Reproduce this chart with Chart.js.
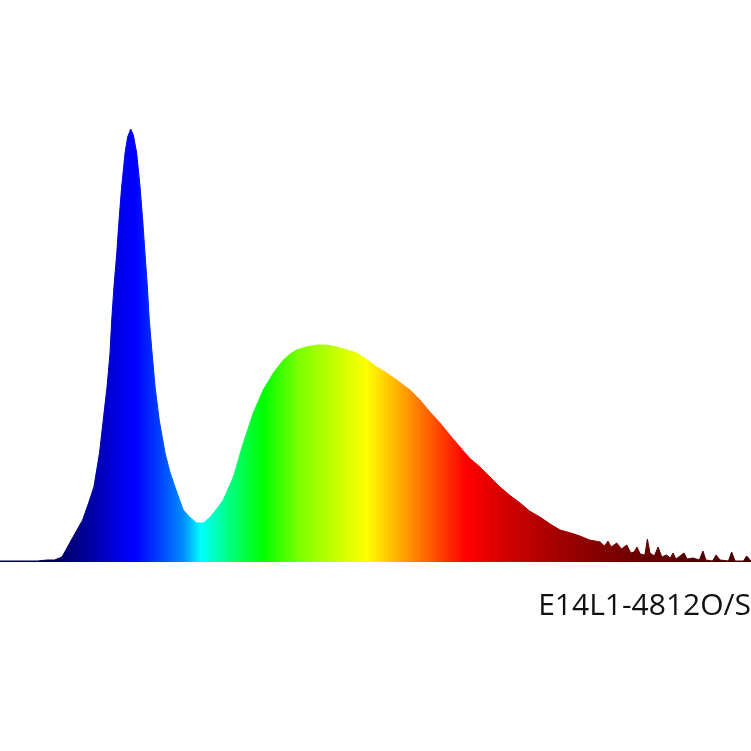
<!DOCTYPE html>
<html>
<head>
<meta charset="utf-8">
<script src="https://cdn.jsdelivr.net/npm/chart.js@4"></script>
<style>
  html, body { margin: 0; padding: 0; background: #fff; }
  #wrap { width: 751px; height: 751px; }
</style>
</head>
<body>
<div id="wrap"><canvas id="myChart"></canvas></div>
<script>
// wavelength (nm) and relative intensity
const wavelengths = [
  380, 390, 400, 405, 409, 413, 418, 421, 424, 427, 430, 433, 435, 437, 438.6, 439.5,
  440.7, 442.2, 443.4, 444.8, 446.6, 448, 449.6, 451, 452.8, 454.6, 456, 457.2, 458.5,
  459.5, 461, 462.6, 464.8, 467.9, 470.5, 473.2, 477.6, 481, 484.8, 488.3, 492, 495,
  498.9, 504.3, 509.6, 514.9, 520.2, 525.6, 530.9, 534.5, 538, 543, 548.7, 554, 559.3,
  565, 570, 575, 580.6, 586, 591.3, 598.4, 603.7, 609, 614.4, 620, 625, 630, 635.7,
  641, 646.3, 652, 657, 662, 667.6, 673, 678.3, 684, 688.9, 694, 699.6, 702, 703.8,
  705.5, 708.5, 711, 713.8, 716, 717.7, 719.3, 721, 723.5, 724.8, 726.2, 728.5, 730.5,
  732.5, 735.1, 737, 738.5, 740, 742.2, 744.3, 746, 749.1, 752.5, 754.4, 756, 759.5,
  761.4, 763.5, 768, 769.7, 771.5, 776, 777.7, 780
];
const intensity = [
  1, 1, 1, 2, 2, 5, 22, 32, 42, 58, 75, 109, 142, 175, 209, 242,
  275, 309, 342, 375, 409, 425, 433, 427, 409, 375, 342, 309, 275,
  242, 209, 175, 142, 109, 90, 75, 52, 45, 39, 39, 45, 52,
  62, 85, 119, 149, 172, 189, 202, 208, 212, 215, 217, 217, 215,
  212, 209, 203, 195, 189, 182, 172, 162, 150, 139, 126, 115, 104, 95,
  85, 75, 66, 59, 51, 45, 38, 32, 29, 26, 22, 20, 16, 21,
  15, 19, 13, 17, 9, 10, 15, 8, 7, 23, 9, 6, 15,
  5, 7, 4, 9, 3, 6, 9, 3, 4, 2, 11, 2, 1,
  7, 2, 1, 10, 1, 1, 6, 1
];
const modelName = "E14L1-4812O/S";

// colour of the light at each wavelength
const spectrumStops = [
  [405, "#000040"], [415, "#000070"], [430, "#0000a8"], [445, "#0000f0"], [452, "#0000ff"],
  [465, "#0040ff"], [478, "#0090ff"], [487, "#00ffff"], [500, "#00ff90"], [520, "#00ff00"],
  [540, "#80ff00"], [575, "#ffff00"], [592, "#ffb000"], [605, "#ff7000"], [618, "#ff3000"],
  [628, "#ff0000"], [655, "#c80000"], [690, "#900000"], [730, "#600000"], [780, "#400000"]
];

function spectrumFill(context) {
  const chart = context.chart;
  const area = chart.chartArea;
  if (!area) return "#0000ff";
  const xs = chart.scales.x;
  const g = chart.ctx.createLinearGradient(area.left, 0, area.right, 0);
  const w = area.right - area.left;
  spectrumStops.forEach(([nm, col]) => {
    const p = (xs.getPixelForValue(nm) - area.left) / w;
    g.addColorStop(Math.min(1, Math.max(0, p)), col);
  });
  return g;
}

const data = {
  datasets: [
    {
      data: wavelengths.map((nm, i) => ({ x: nm, y: intensity[i] })),
      backgroundColor: spectrumFill,
      borderColor: spectrumFill,
      borderWidth: 1,
      pointRadius: 0,
      fill: "origin",
      tension: 0,
    },
  ],
};

const config = {
  type: "line",
  data: data,
  options: {
    responsive: true,
    maintainAspectRatio: false,
    animation: false,
    layout: { padding: 0 },
    plugins: {
      legend: { display: false },
      tooltip: { enabled: false },
      title: {
        display: true,
        text: modelName,
        position: "bottom",
        align: "end",
        color: "#111111",
        font: { family: "'Open Sans'", size: 30, weight: "normal", lineHeight: 1.2 },
        padding: { top: 26, bottom: 127 },
      },
    },
    scales: {
      x: { type: "linear", min: 380, max: 780, display: false },
      y: { min: 0, max: 562, display: false },
    },
  },
};
const myChart = new Chart(document.getElementById("myChart"), config);
</script>
</body>
</html>
